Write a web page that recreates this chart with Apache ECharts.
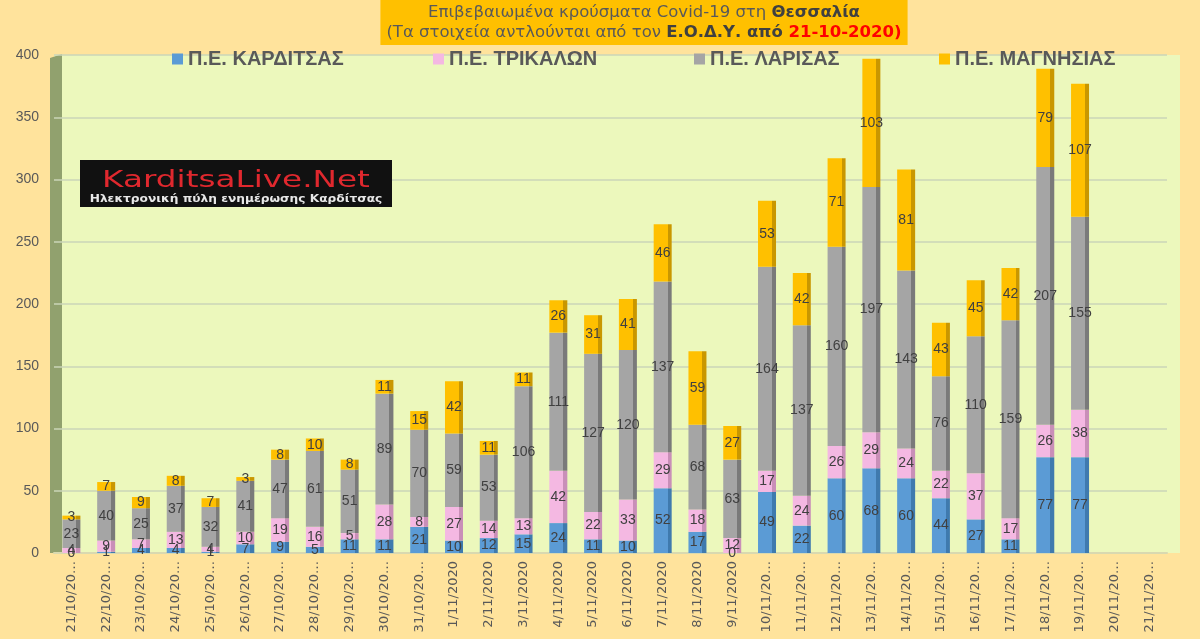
<!DOCTYPE html>
<html><head><meta charset="utf-8">
<script src="https://cdn.jsdelivr.net/npm/echarts@6/dist/echarts.min.js"></script>
<style>html,body{margin:0;padding:0;background:#FFE39C;}#c{width:1200px;height:639px;}</style>
</head><body><div id="c"></div>
<script>
const categories = ['21/10/2020','22/10/2020','23/10/2020','24/10/2020','25/10/2020','26/10/2020','27/10/2020','28/10/2020','29/10/2020','30/10/2020','31/10/2020','1/11/2020','2/11/2020','3/11/2020','4/11/2020','5/11/2020','6/11/2020','7/11/2020','8/11/2020','9/11/2020','10/11/2020','11/11/2020','12/11/2020','13/11/2020','14/11/2020','15/11/2020','16/11/2020','17/11/2020','18/11/2020','19/11/2020','20/11/2020','21/11/2020'];
const karditsa = [0,1,4,4,1,7,9,5,11,11,21,10,12,15,24,11,10,52,17,0,49,22,60,68,60,44,27,11,77,77,null,null];
const trikala  = [4,9,7,13,4,10,19,16,5,28,8,27,14,13,42,22,33,29,18,12,17,24,26,29,24,22,37,17,26,38,null,null];
const larisa   = [23,40,25,37,32,41,47,61,51,89,70,59,53,106,111,127,120,137,68,63,164,137,160,197,143,76,110,159,207,155,null,null];
const magnisia = [3,7,9,8,7,3,8,10,8,11,15,42,11,11,26,31,41,46,59,27,53,42,71,103,81,43,45,42,79,107,null,null];
const yTicks = {min:0, max:400, interval:50};

const names = ['Π.Ε. ΚΑΡΔΙΤΣΑΣ','Π.Ε. ΤΡΙΚΑΛΩΝ','Π.Ε. ΛΑΡΙΣΑΣ','Π.Ε. ΜΑΓΝΗΣΙΑΣ'];
const colors = ['#5B9BD5','#F4B8E2','#A5A5A5','#FFC000'];
const darks  = ['#3F7AAE','#C98FB8','#7A7A7A','#C99700'];
const datas = [karditsa, trikala, larisa, magnisia];
const legendLefts = [167, 428, 689, 934];

function grad(i){
  return {type:'linear',x:0,y:0,x2:1,y2:0,colorStops:[
    {offset:0,color:colors[i]},{offset:0.78,color:colors[i]},
    {offset:0.78,color:darks[i]},{offset:1,color:darks[i]}]};
}

const chart = echarts.init(document.getElementById('c'));
chart.setOption({
  backgroundColor:'#FFE39C',
  animation:false,
  title:{
    text:'{n|Επιβεβαιωμένα κρούσματα Covid-19 στη }{b|Θεσσαλία}\n{n|(Τα στοιχεία αντλούνται από τον }{b|Ε.Ο.Δ.Υ. από }{r|21-10-2020)}',
    left:638, top:0, textAlign:'center',
    backgroundColor:'#FFC000', padding:[3,6,2,6],
    textStyle:{
      fontWeight:'normal',
      lineHeight:20,
      rich:{
        n:{fontFamily:'DejaVu Sans',fontSize:16.5,fontWeight:'normal',color:'#595959',lineHeight:20},
        b:{fontFamily:'DejaVu Sans',fontSize:16.5,fontWeight:'bold',color:'#404040',lineHeight:20},
        r:{fontFamily:'DejaVu Sans',fontSize:16.5,fontWeight:'bold',color:'#FF0000',lineHeight:20}
      }
    }
  },
  legend: names.map(function(n,i){
    return {
      data:[{name:n,itemStyle:{color:colors[i]}}], top:44, left:legendLefts[i], itemWidth:11, itemHeight:11, itemGap:6,
      icon:'rect',
      textStyle:{fontFamily:'Liberation Sans, Arial, sans-serif',fontSize:20,fontWeight:'bold',color:'#595959'}
    };
  }),
  grid:{left:54, right:33, top:55, bottom:86, show:false},
  graphic:[
    {type:'rect',z:-10,shape:{x:54,y:55,width:1126,height:498},style:{fill:'#ECF8BC'}},
    {type:'polygon',z:-9,shape:{points:[[50,58],[62,54],[62,553],[50,553]]},style:{fill:'#91A16E'}},
    {type:'rect',z:20,shape:{x:80,y:160,width:312,height:47},style:{fill:'#111111'}},
    {type:'text',z:21,x:236,y:181,scaleX:1.42,style:{x:0,y:0,text:'KarditsaLive.Net',align:'center',verticalAlign:'middle',fill:'#E0282E',font:'23px "DejaVu Sans"'}},
    {type:'text',z:21,x:236,y:199,scaleX:1.22,style:{x:0,y:0,text:'Ηλεκτρονική πύλη ενημέρωσης Καρδίτσας',align:'center',verticalAlign:'middle',fill:'#E8E8E8',font:'bold 10px "DejaVu Sans"'}}
  ],
  xAxis:{
    type:'category', data:categories,
    axisLine:{show:true,lineStyle:{color:'#D9D9B0',width:2}},
    axisTick:{show:false},
    axisLabel:{rotate:90, interval:0, color:'#595959', fontSize:13, fontFamily:'DejaVu Sans', margin:8,
      formatter:function(s){return s.length>9 ? s.slice(0,8)+'…' : s;}}
  },
  yAxis:{
    type:'value', min:yTicks.min, max:yTicks.max, interval:yTicks.interval,
    axisLine:{show:false}, axisTick:{show:false},
    axisLabel:{color:'#595959', fontSize:14, fontFamily:'Liberation Sans, sans-serif', margin:15},
    splitLine:{lineStyle:{color:'#CBD6B8',width:1.5}}
  },
  series: names.map(function(n,i){
    return {
      name:n, type:'bar', stack:'total', data:datas[i], barWidth:18,
      itemStyle:{color:grad(i)},
      label:{show:true, position:'inside', color:'#404040', fontSize:14, fontFamily:'Liberation Sans, sans-serif',
        formatter:function(p){return p.value==null?'':p.value;}}
    };
  })
});
</script></body></html>
